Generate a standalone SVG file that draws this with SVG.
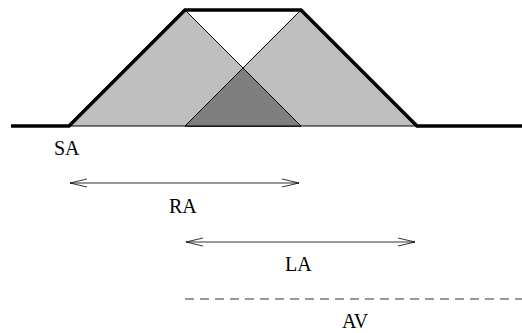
<svg xmlns="http://www.w3.org/2000/svg" width="522" height="333" viewBox="0 0 522 333">
<defs>
<marker id="open" markerWidth="18" markerHeight="10" refX="17" refY="5" orient="auto-start-reverse" markerUnits="userSpaceOnUse">
<path d="M0,1 L17,5 L0,9" fill="none" stroke="#000" stroke-width="0.8"/>
</marker>
</defs>
<style>
.lbl{font-family:"Liberation Serif","Times New Roman",serif;font-size:20px;fill:#000}
.arr{stroke:#333;stroke-width:1.2;fill:none}
</style>
<rect width="522" height="333" fill="#fff"/>
<g id="tri-left"><polygon points="69,126 185,10 301,126" fill="#bfbfbf" stroke="#000" stroke-width="1"/></g>
<g id="tri-right"><polygon points="185,126 301,10 417,126" fill="#bfbfbf" stroke="#000" stroke-width="1"/></g>
<g id="overlap"><polygon points="185,126 243,68 301,126" fill="#7f7f7f" stroke="#000" stroke-width="1"/></g>
<g id="outline"><polyline points="11,126 69,126 185,10 301,10 417,126 522,126" fill="none" stroke="#000" stroke-width="3.5" stroke-linejoin="miter"/></g>
<g id="connectors">
<line class="arr" x1="70" y1="183" x2="299" y2="183" marker-start="url(#open)" marker-end="url(#open)"/>
<line class="arr" x1="186" y1="242" x2="415" y2="242" marker-start="url(#open)" marker-end="url(#open)"/>
<line x1="185" y1="299" x2="522" y2="299" stroke="#333" stroke-width="1" stroke-dasharray="9,6"/>
</g>
<g id="label-SA"><text class="lbl" x="54" y="155">SA</text></g>
<g id="label-RA"><text class="lbl" x="169" y="213">RA</text></g>
<g id="label-LA"><text class="lbl" x="285" y="271">LA</text></g>
<g id="label-AV"><text class="lbl" x="342" y="328">AV</text></g>
</svg>
